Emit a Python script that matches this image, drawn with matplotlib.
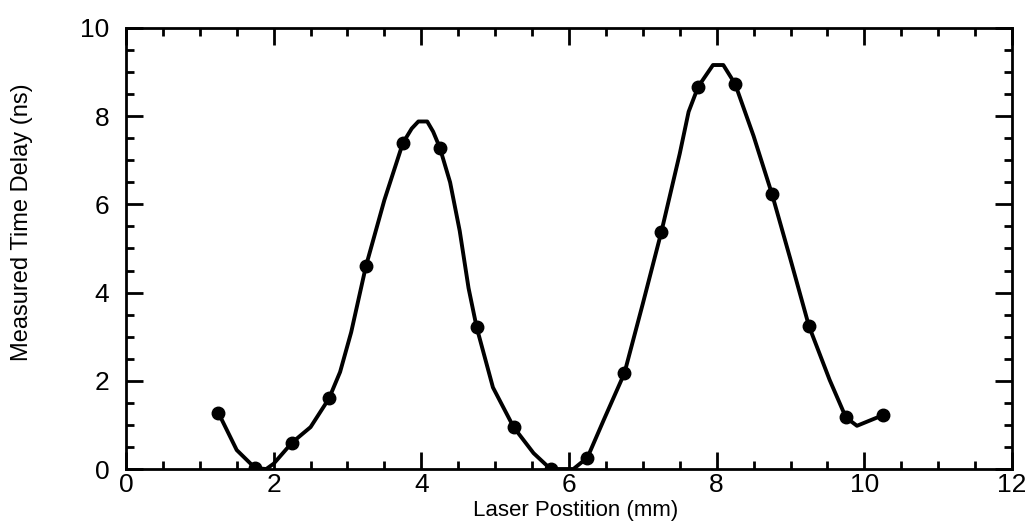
import numpy as np
import matplotlib.pyplot as plt
from matplotlib.ticker import MultipleLocator

# measured points (laser position in mm, delay in ns)
pos = [1.25, 1.75, 2.25, 2.75, 3.25, 3.75, 4.25, 4.75, 5.25, 5.75,
       6.25, 6.75, 7.25, 7.75, 8.25, 8.75, 9.25, 9.75, 10.25]
delay = [1.28, 0.02, 0.60, 1.60, 4.60, 7.39, 7.29, 3.21, 0.95, 0.0,
         0.26, 2.17, 5.37, 8.67, 8.73, 6.23, 3.24, 1.17, 1.22]

# fitted curve
fit_x = [1.25, 1.5, 1.75, 1.9, 2.0, 2.25, 2.5, 2.75, 2.9, 3.05, 3.25, 3.5,
         3.75, 3.87, 3.96, 4.08, 4.16, 4.25, 4.39, 4.52, 4.64, 4.75, 4.97,
         5.25, 5.52, 5.75, 6.06, 6.25, 6.47, 6.75, 7.0, 7.25, 7.5, 7.62,
         7.75, 7.95, 8.09, 8.25, 8.5, 8.75, 9.0, 9.25, 9.53, 9.75, 9.9, 10.25]
fit_y = [1.28, 0.43, 0.02, 0.0, 0.12, 0.60, 0.95, 1.60, 2.20, 3.10, 4.60, 6.10,
         7.39, 7.72, 7.88, 7.88, 7.65, 7.29, 6.50, 5.40, 4.10, 3.21, 1.85,
         0.95, 0.36, 0.0, 0.0, 0.26, 1.11, 2.17, 3.75, 5.37, 7.15, 8.10,
         8.67, 9.16, 9.16, 8.73, 7.55, 6.23, 4.75, 3.24, 2.02, 1.17, 0.98, 1.22]

plt.rcParams['font.family'] = ['Liberation Sans', 'DejaVu Sans']

fig = plt.figure(figsize=(10.35, 5.22), dpi=100)
ax = fig.add_axes([0.1217, 0.1015, 0.8561, 0.8449])

ax.plot(fit_x, fit_y, color='black', lw=2.8, solid_joinstyle='round')
ax.plot(pos, delay, 'o', color='black', ms=9)

ax.set_xlim(0, 12)
ax.set_ylim(0, 10)
ax.xaxis.set_major_locator(MultipleLocator(2))
ax.xaxis.set_minor_locator(MultipleLocator(0.5))
ax.yaxis.set_major_locator(MultipleLocator(2))
ax.yaxis.set_minor_locator(MultipleLocator(0.5))

ax.tick_params(which='both', direction='in', top=True, right=True, width=2)
ax.tick_params(which='major', length=12, labelsize=19)
ax.tick_params(which='minor', length=6)
ax.tick_params(axis='x', which='major', pad=3)
ax.tick_params(axis='y', which='major', pad=12)
for s in ax.spines.values():
    s.set_linewidth(2)

ax.set_xlabel("Laser Postition (mm)", fontsize=16, va='bottom')
ax.set_ylabel("Measured Time Delay (ns)", fontsize=17)
ax.xaxis.set_label_coords(0.507, -0.118)
ax.yaxis.set_label_coords(-0.105, 0.56)

plt.savefig("out.png", dpi=100)
